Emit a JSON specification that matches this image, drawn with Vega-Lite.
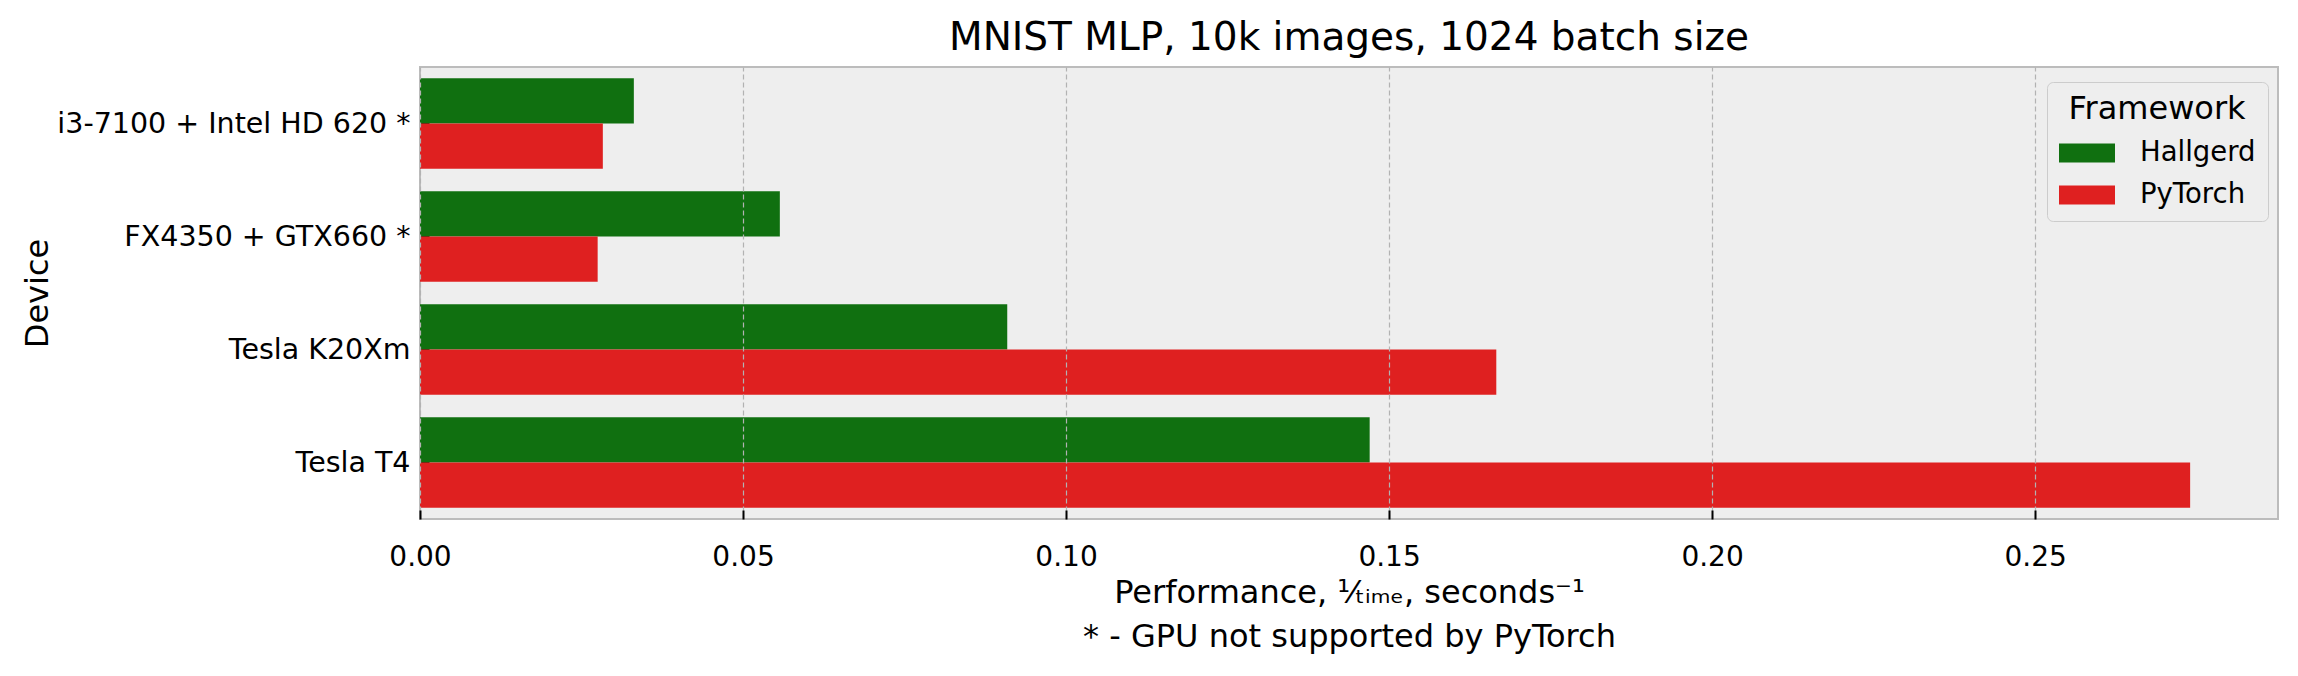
{
  "$schema": "https://vega.github.io/schema/vega-lite/v6.json",
  "width": 1858,
  "height": 452,
  "autosize": {"type": "none"},
  "padding": {"left": 420, "top": 67, "right": 20, "bottom": 157},
  "background": "white",
  "config": {
    "font": "DejaVu Sans",
    "view": {"fill": "#eeeeee", "stroke": "#bcbcbc", "strokeWidth": 2}
  },
  "title": {
    "text": "MNIST MLP, 10k images, 1024 batch size",
    "fontSize": 39,
    "fontWeight": "normal",
    "font": "DejaVu Sans",
    "color": "black",
    "anchor": "middle",
    "offset": 9
  },
  "data": {
    "values": [
      {"Device": "i3-7100 + Intel HD 620 *", "Framework": "Hallgerd", "Performance": 0.0331},
      {"Device": "i3-7100 + Intel HD 620 *", "Framework": "PyTorch", "Performance": 0.0283},
      {"Device": "FX4350 + GTX660 *", "Framework": "Hallgerd", "Performance": 0.0557},
      {"Device": "FX4350 + GTX660 *", "Framework": "PyTorch", "Performance": 0.0275},
      {"Device": "Tesla K20Xm", "Framework": "Hallgerd", "Performance": 0.0909},
      {"Device": "Tesla K20Xm", "Framework": "PyTorch", "Performance": 0.1666},
      {"Device": "Tesla T4", "Framework": "Hallgerd", "Performance": 0.147},
      {"Device": "Tesla T4", "Framework": "PyTorch", "Performance": 0.274}
    ]
  },
  "mark": {"type": "bar"},
  "encoding": {
    "y": {
      "field": "Device",
      "type": "nominal",
      "sort": null,
      "scale": {"paddingInner": 0.2, "paddingOuter": 0.1},
      "axis": {
        "title": "Device",
        "titleFontSize": 32,
        "titleFontWeight": "normal",
        "titleColor": "black",
        "titleX": -383,
        "titleY": 226,
        "titleAngle": -90,
        "titleAlign": "center",
        "titleBaseline": "middle",
        "labelFontSize": 28.5,
        "labelColor": "black",
        "labelLimit": 0,
        "labelPadding": 19,
        "tickSize": -9,
        "tickWidth": 2,
        "tickColor": "black",
        "domain": false,
        "grid": false,
        "bandPosition": 0.5
      }
    },
    "yOffset": {"field": "Framework", "sort": ["Hallgerd", "PyTorch"]},
    "x": {
      "field": "Performance",
      "type": "quantitative",
      "scale": {"domain": [0, 0.2876], "nice": false},
      "axis": {
        "title": ["Performance, ¹⁄ₜᵢₘₑ, seconds⁻¹", "* - GPU not supported by PyTorch"],
        "titleFontSize": 32,
        "titleFontWeight": "normal",
        "titleColor": "black",
        "titleY": 83,
        "titleBaseline": "alphabetic",
        "titleLineHeight": 44,
        "labelFontSize": 28,
        "labelColor": "black",
        "labelPadding": 33,
        "labelFlush": false,
        "labelOverlap": false,
        "tickSize": -9,
        "tickWidth": 2,
        "tickColor": "black",
        "domain": false,
        "grid": true,
        "gridDash": [5, 3],
        "gridColor": "#b2b2b2",
        "gridWidth": 1.2,
        "values": [0, 0.05, 0.1, 0.15, 0.2, 0.25],
        "format": ".2f",
        "zindex": 1
      }
    },
    "color": {
      "field": "Framework",
      "type": "nominal",
      "scale": {"domain": ["Hallgerd", "PyTorch"], "range": ["#107010", "#df2020"]},
      "legend": {
        "orient": "none",
        "legendX": 1627,
        "legendY": 15,
        "title": "Framework",
        "titleFontSize": 32,
        "titleFontWeight": "normal",
        "titleColor": "black",
        "titleAnchor": "middle",
        "titlePadding": -1,
        "labelFontSize": 27.5,
        "labelColor": "black",
        "symbolType": "M-1,-0.34H1V0.34H-1Z",
        "symbolSize": 3136,
        "symbolStrokeWidth": 0,
        "symbolOpacity": 1,
        "labelOffset": 25,
        "rowPadding": -16,
        "padding": 12,
        "fillColor": "#eeeeee",
        "strokeColor": "#cccccc",
        "cornerRadius": 6
      }
    }
  }
}
